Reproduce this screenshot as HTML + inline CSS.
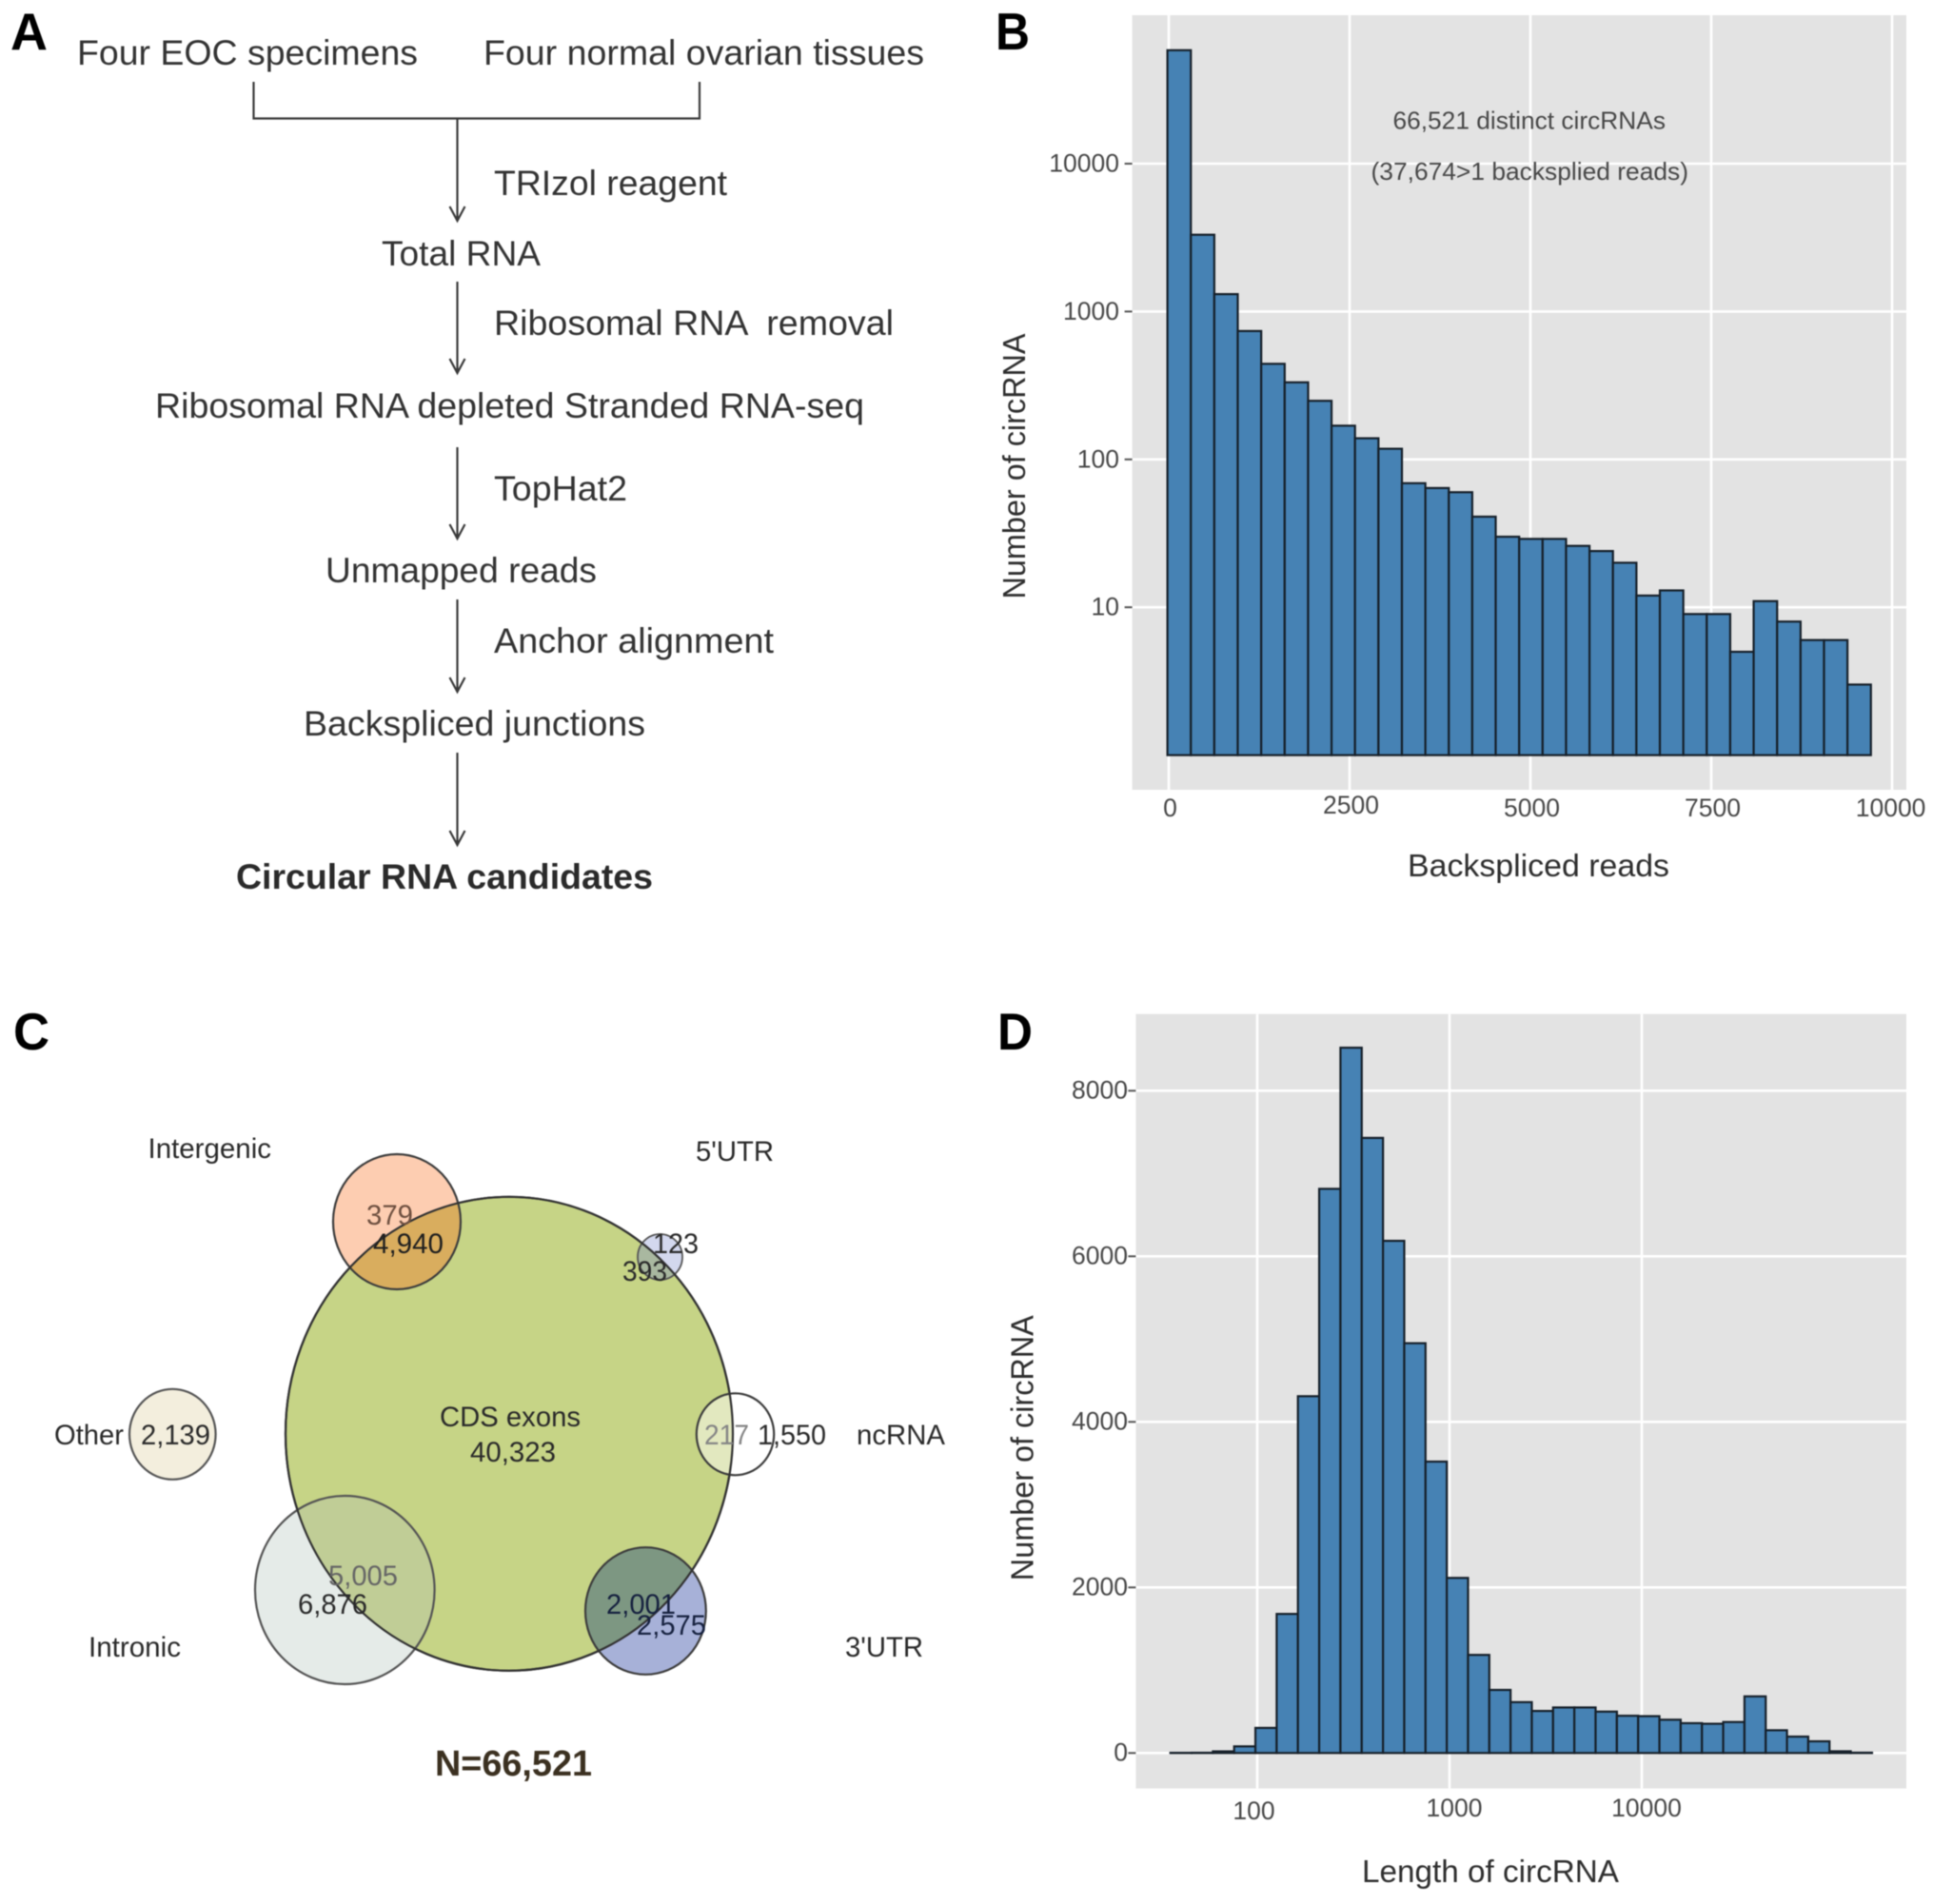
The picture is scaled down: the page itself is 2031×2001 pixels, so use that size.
<!DOCTYPE html>
<html>
<head>
<meta charset="utf-8">
<title>circRNA figure</title>
<style>
html,body{margin:0;padding:0;background:#fff;}
svg{display:block;font-family:"Liberation Sans",sans-serif;filter:blur(0.6px);}
.a{font-size:37px;fill:#333333;}
.c{font-size:29.5px;fill:#2a2a2a;}
.letter{font-size:55px;font-weight:bold;fill:#000;}
.flow{stroke:#3a3a3a;stroke-width:2.2;fill:none;}
.ring{stroke:#3d3d3d;stroke-width:2.2;}
</style>
</head>
<body>
<svg id="fig" xmlns="http://www.w3.org/2000/svg" width="2031" height="2001" viewBox="0 0 2031 2001">
<rect x="0" y="0" width="2031" height="2001" fill="#ffffff"/>

<g>
<text class="letter" x="11" y="52" textLength="39" lengthAdjust="spacingAndGlyphs">A</text>
<text class="a" x="81" y="68" textLength="358" lengthAdjust="spacingAndGlyphs">Four EOC specimens</text>
<text class="a" x="508" y="68" textLength="463" lengthAdjust="spacingAndGlyphs">Four normal ovarian tissues</text>
<path class="flow" d="M266.5 86V124.5H735V86"/>
<path class="flow" d="M480.5 124V232M472.5 217L480.5 232L488.5 217"/>
<text class="a" x="519" y="205" textLength="245" lengthAdjust="spacingAndGlyphs">TRIzol reagent</text>
<text class="a" x="401" y="279" textLength="167" lengthAdjust="spacingAndGlyphs">Total RNA</text>
<path class="flow" d="M480.5 296V392M472.5 377L480.5 392L488.5 377"/>
<text class="a" x="519" y="352" textLength="420" lengthAdjust="spacingAndGlyphs" xml:space="preserve">Ribosomal RNA  removal</text>
<text class="a" x="163" y="439" textLength="745" lengthAdjust="spacingAndGlyphs">Ribosomal RNA depleted Stranded RNA-seq</text>
<path class="flow" d="M480.5 470V566M472.5 551L480.5 566L488.5 551"/>
<text class="a" x="519" y="526" textLength="140" lengthAdjust="spacingAndGlyphs">TopHat2</text>
<text class="a" x="342" y="612" textLength="285" lengthAdjust="spacingAndGlyphs">Unmapped reads</text>
<path class="flow" d="M480.5 630V727M472.5 712L480.5 727L488.5 712"/>
<text class="a" x="519" y="686" textLength="294" lengthAdjust="spacingAndGlyphs">Anchor alignment</text>
<text class="a" x="319" y="773" textLength="359" lengthAdjust="spacingAndGlyphs">Backspliced junctions</text>
<path class="flow" d="M480.5 791V888M472.5 873L480.5 888L488.5 873"/>
<text class="a" x="248" y="934" textLength="438" lengthAdjust="spacingAndGlyphs" style="font-weight:bold;fill:#2a2a2a">Circular RNA candidates</text>
</g>

<g id="panelB">
<text class="letter" x="1046" y="52" textLength="36" lengthAdjust="spacingAndGlyphs">B</text>
</g>

<g>
<defs>
<clipPath id="bigClip"><ellipse cx="535" cy="1506.8" rx="235" ry="249"/></clipPath>
</defs>
<text class="letter" x="14" y="1103" textLength="38" lengthAdjust="spacingAndGlyphs">C</text>
<ellipse class="ring" cx="535" cy="1506.8" rx="235" ry="249" fill="#c6d486"/>
<ellipse cx="417" cy="1284" rx="67" ry="71" fill="#fdcdb1"/>
<ellipse cx="417" cy="1284" rx="67" ry="71" fill="#d9ad5e" clip-path="url(#bigClip)"/>
<ellipse class="ring" cx="417" cy="1284" rx="67" ry="71" fill="none"/>
<ellipse cx="693.5" cy="1321" rx="23.5" ry="24" fill="#d3d8ee"/>
<ellipse cx="693.5" cy="1321" rx="23.5" ry="24" fill="#a9b8a0" clip-path="url(#bigClip)"/>
<ellipse class="ring" cx="693.5" cy="1321" rx="23.5" ry="24" fill="none" style="stroke:#555;stroke-width:1.8"/>
<ellipse class="ring" cx="181.3" cy="1507.3" rx="45.3" ry="47.5" fill="#f3eedd" style="stroke:#555"/>
<ellipse cx="772.5" cy="1507.3" rx="40.7" ry="43" fill="#ffffff"/>
<ellipse cx="772.5" cy="1507.3" rx="40.7" ry="43" fill="#e2e8bf" clip-path="url(#bigClip)"/>
<ellipse class="ring" cx="772.5" cy="1507.3" rx="40.7" ry="43" fill="none"/>
<ellipse cx="362.3" cy="1671" rx="94.3" ry="99" fill="#e5ebe8"/>
<ellipse cx="362.3" cy="1671" rx="94.3" ry="99" fill="#c0cd96" clip-path="url(#bigClip)"/>
<ellipse class="ring" cx="362.3" cy="1671" rx="94.3" ry="99" fill="none" style="stroke:#555"/>
<ellipse cx="678.4" cy="1693" rx="63.4" ry="66.8" fill="#a7b1d8"/>
<ellipse cx="678.4" cy="1693" rx="63.4" ry="66.8" fill="#7d9782" clip-path="url(#bigClip)"/>
<ellipse class="ring" cx="678.4" cy="1693" rx="63.4" ry="66.8" fill="none"/>
<ellipse cx="535" cy="1506.8" rx="235" ry="249" fill="none" stroke="#333" stroke-width="2.2"/>

<text class="c" x="155.5" y="1217" textLength="129.5" lengthAdjust="spacingAndGlyphs">Intergenic</text>
<text class="c" x="731" y="1220" textLength="82" lengthAdjust="spacingAndGlyphs">5'UTR</text>
<text class="c" x="385" y="1287" textLength="49" lengthAdjust="spacingAndGlyphs" style="fill:#6e5040">379</text>
<text class="c" x="392" y="1317" textLength="74" lengthAdjust="spacingAndGlyphs" style="fill:#1f1f1f">4,940</text>
<text class="c" x="686" y="1317" textLength="48" lengthAdjust="spacingAndGlyphs">123</text>
<text class="c" x="654" y="1346" textLength="47" lengthAdjust="spacingAndGlyphs">393</text>
<text class="c" x="462" y="1499" textLength="148" lengthAdjust="spacingAndGlyphs">CDS exons</text>
<text class="c" x="494" y="1536" textLength="90" lengthAdjust="spacingAndGlyphs">40,323</text>
<text class="c" x="57" y="1518" textLength="73" lengthAdjust="spacingAndGlyphs">Other</text>
<text class="c" x="148" y="1518" textLength="73" lengthAdjust="spacingAndGlyphs">2,139</text>
<text class="c" x="740" y="1518" textLength="47" lengthAdjust="spacingAndGlyphs" style="fill:#858585">217</text>
<text class="c" x="796" y="1518" textLength="72" lengthAdjust="spacingAndGlyphs">1,550</text>
<text class="c" x="900" y="1518" textLength="93" lengthAdjust="spacingAndGlyphs">ncRNA</text>
<text class="c" x="345" y="1666" textLength="73" lengthAdjust="spacingAndGlyphs" style="fill:#666">5,005</text>
<text class="c" x="313" y="1696" textLength="73" lengthAdjust="spacingAndGlyphs">6,876</text>
<text class="c" x="637" y="1696" textLength="73" lengthAdjust="spacingAndGlyphs" style="fill:#16213f">2,001</text>
<text class="c" x="669" y="1718" textLength="73" lengthAdjust="spacingAndGlyphs" style="fill:#16213f">2,575</text>
<text class="c" x="93" y="1741" textLength="97" lengthAdjust="spacingAndGlyphs">Intronic</text>
<text class="c" x="888" y="1741" textLength="82" lengthAdjust="spacingAndGlyphs">3'UTR</text>
<text x="457" y="1866" textLength="165" lengthAdjust="spacingAndGlyphs" style="font-size:38px;font-weight:bold;fill:#3b3020">N=66,521</text>
</g>

<g id="panelD">
<text class="letter" x="1048" y="1103" textLength="37" lengthAdjust="spacingAndGlyphs">D</text>
</g>
</svg>

<script>
const bCounts = [58500,3305,1311,738,443,332,249,169,139,118,69,64,60,41,30,29,29,26,24,20,12,13,9,9,5,11,8,6,6,3];
const bXTicks = [0,2500,5000,7500,10000];
const bYTicks = [10,100,1000,10000];
const bBinWidth = 324.2;

const dCounts = [2,3,20,80,303,1680,4310,6815,8520,7430,6187,4950,3520,2115,1185,762,614,508,550,550,500,450,445,402,360,353,374,684,275,198,141,21,4];
const dXTicks = [100,1000,10000];
const dYTicks = [0,2000,4000,6000,8000];
const dFirstEdgeLog = 1.548;
const dBinLogWidth = 0.1106;

const NS = 'http://www.w3.org/2000/svg';
function bx(v){ return 1228 + v * 190 / 2500; }
function by(v){ return 793.6 - Math.log10(v) * 155.4; }
function dxLog(l){ return 1321 + (l - 2) * 202; }
function dy(v){ return 1842.3 - v * 174 / 2000; }

function shape(tag, parent, attrs){
  const el = document.createElementNS(NS, tag);
  for (const k in attrs) el.setAttribute(k, attrs[k]);
  parent.appendChild(el);
  return el;
}

function drawPanel(g, L, T, R, B, prefix){
  const bg = shape('rect', g, {x:L, y:T, width:R-L, height:B-T, fill:'#e3e3e3'});
  
  
}

function drawGrid(g, L, T, R, B, xs, ys, prefix){
  xs.forEach(function(x){
    const l = shape('line', g, {x1:x, x2:x, y1:T, y2:B, stroke:'#ffffff', 'stroke-width':2.6});
    
    
  });
  ys.forEach(function(y){
    const l = shape('line', g, {x1:L, x2:R, y1:y, y2:y, stroke:'#ffffff', 'stroke-width':2.6});
    
    
    const t = shape('line', g, {x1:L-8, x2:L, y1:y, y2:y, stroke:'#555555', 'stroke-width':2});
    
    
  });
}

function label(g, x, y, str, anchor, size, fill){
  const t = shape('text', g, {x:x, y:y, 'text-anchor':anchor, 'font-size':size, fill:fill});
  t.textContent = str;
  return t;
}

/* Panel B */
(function(){
  const g = document.getElementById('panelB');
  const L = 1189.6, T = 16, R = 2003, Bt = 830;
  drawPanel(g, L, T, R, Bt, 'panel-b');
  drawGrid(g, L, T, R, Bt, bXTicks.map(bx), bYTicks.map(by), 'panel-b');
  bCounts.forEach(function(c, i){
    const x0 = bx(i * bBinWidth) - 1.4, x1 = bx((i + 1) * bBinWidth) - 1.4, y = by(c);
    const r = shape('rect', g, {x:x0, y:y, width:x1-x0, height:by(1)-y, fill:'#4682b4', stroke:'#16202a', 'stroke-width':2.2});
    
    
  });
  bXTicks.forEach(function(v){
    const t = label(g, v === 10000 ? bx(v) - 1.4 : bx(v) + 1.5, v === 2500 ? 855 : 858, String(v), 'middle', 26.5, '#484848');
    
    
  });
  bYTicks.forEach(function(v){
    const t = label(g, 1176, by(v) + 8.5, String(v), 'end', 26.5, '#484848');
    
    
  });
  const a1 = label(g, 1463.5, 135.7, '66,521 distinct circRNAs', 'start', 26, '#484848');
  a1.setAttribute('textLength', '286.5');
  a1.setAttribute('lengthAdjust', 'spacingAndGlyphs');
  
  
  const a2 = label(g, 1440.5, 189, '(37,674>1 backsplied reads)', 'start', 26, '#484848');
  a2.setAttribute('textLength', '333.5');
  a2.setAttribute('lengthAdjust', 'spacingAndGlyphs');
  
  
  const xt = label(g, 1479, 921, 'Backspliced reads', 'start', 33, '#2e2e2e');
  xt.setAttribute('textLength', '275');
  xt.setAttribute('lengthAdjust', 'spacingAndGlyphs');
  
  
  const yt = label(g, 0, 0, 'Number of circRNA', 'middle', 33, '#2e2e2e');
  yt.setAttribute('transform', 'translate(1077 490) rotate(-90)');
  yt.setAttribute('textLength', '279');
  yt.setAttribute('lengthAdjust', 'spacingAndGlyphs');
  
  
})();

/* Panel D */
(function(){
  const g = document.getElementById('panelD');
  const L = 1193.4, T = 1065.7, R = 2003, Bt = 1879.6;
  drawPanel(g, L, T, R, Bt, 'panel-d');
  drawGrid(g, L, T, R, Bt, dXTicks.map(function(v){ return dxLog(Math.log10(v)); }), dYTicks.map(dy), 'panel-d');
  dCounts.forEach(function(c, i){
    const x0 = dxLog(dFirstEdgeLog + i * dBinLogWidth), x1 = dxLog(dFirstEdgeLog + (i + 1) * dBinLogWidth), y = dy(c);
    const r = shape('rect', g, {x:x0, y:y, width:x1-x0, height:dy(0)-y, fill:'#4682b4', stroke:'#16202a', 'stroke-width':2.2});
    
    
  });
  dXTicks.forEach(function(v){
    const t = label(g, dxLog(Math.log10(v)) + (v === 100 ? -3.5 : 5), v === 100 ? 1912 : 1909, String(v), 'middle', 26.5, '#484848');
    
    
  });
  dYTicks.forEach(function(v){
    const t = label(g, 1185, dy(v) + 8, String(v), 'end', 26.5, '#484848');
    
    
  });
  const xt = label(g, 1431, 1978, 'Length of circRNA', 'start', 33, '#2e2e2e');
  xt.setAttribute('textLength', '270');
  xt.setAttribute('lengthAdjust', 'spacingAndGlyphs');
  
  
  const yt = label(g, 0, 0, 'Number of circRNA', 'middle', 33, '#2e2e2e');
  yt.setAttribute('transform', 'translate(1085.5 1521.7) rotate(-90)');
  yt.setAttribute('textLength', '279');
  yt.setAttribute('lengthAdjust', 'spacingAndGlyphs');
  
  
})();
</script>
</body>
</html>
